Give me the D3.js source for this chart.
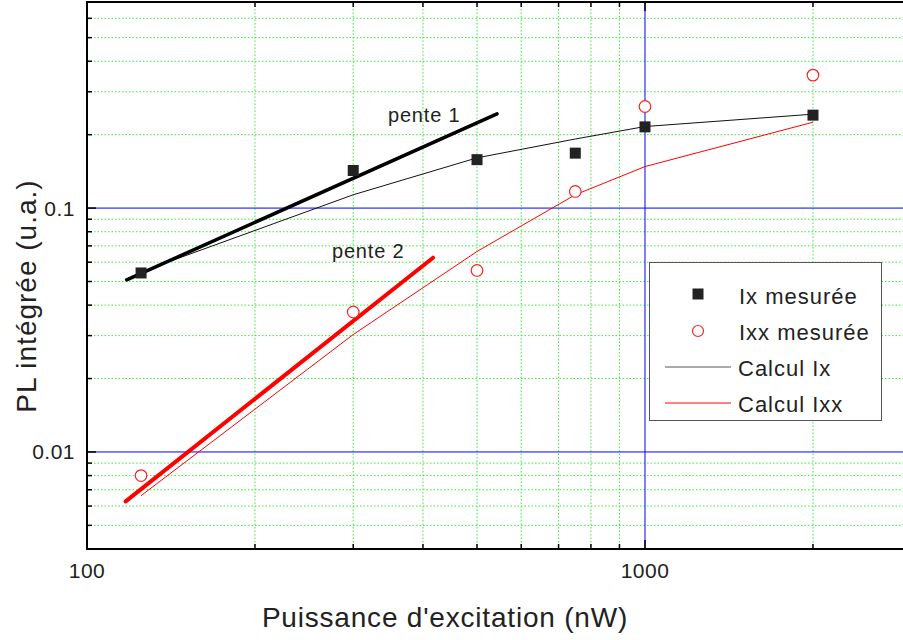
<!DOCTYPE html>
<html><head><meta charset="utf-8">
<script src="https://cdn.jsdelivr.net/npm/d3@7"></script>
<style>body{margin:0;background:#fff}svg{display:block}text{font-family:"Liberation Sans",Arial,sans-serif;fill:#222}</style>
</head><body><svg id="c" width="903" height="640"></svg>
<script>
const powers = [125, 300, 500, 750, 1000, 2000];
const ixMeasured = [0.0542, 0.1426, 0.158, 0.168, 0.2153, 0.2405];
const ixxMeasured = [0.0080, 0.0375, 0.0555, 0.117, 0.261, 0.351];
const ixCalc = [0.0548, 0.1134, 0.1607, 0.192, 0.216, 0.2427];
const ixxCalc = [0.00662, 0.0303, 0.0664, 0.1134, 0.148, 0.225];
const pente1 = [[117.8, 0.0508], [543, 0.2434]];
const pente2 = [[117.3, 0.00627], [417, 0.0626]];
const xMajorTicks = [100, 1000];
const xMinorTicks = [200, 300, 400, 500, 600, 700, 800, 900, 2000];
const yMajorTicks = [0.01, 0.1];
const yMinorTicks = [0.005, 0.006, 0.007, 0.008, 0.009, 0.02, 0.03, 0.04, 0.05, 0.06, 0.07, 0.08, 0.09, 0.2, 0.3, 0.4, 0.5, 0.6];
const yTickLabels = ["0.01", "0.1"];
const xTickLabels = ["100", "1000"];
const legendLabels = ["Ix mesurée", "Ixx mesurée", "Calcul Ix", "Calcul Ixx"];

const L = 87, T = 2, B = 549;
const x = d3.scaleLog().domain([100, 3000]).range([L, L + 558 * Math.log10(30)]);
const y = d3.scaleLog().domain([0.004, 0.7]).range([B, T]);
const R = 903;
const svg = d3.select("#c");
const g = svg.append("g");

// minor grid
g.selectAll(".gx").data(xMinorTicks).join("line")
  .attr("x1", d => x(d)).attr("x2", d => x(d)).attr("y1", T).attr("y2", B)
  .attr("stroke", "#33ee33").attr("stroke-width", 1).attr("stroke-dasharray", "1.5,2");
g.selectAll(".gy").data(yMinorTicks).join("line")
  .attr("x1", L).attr("x2", R).attr("y1", d => y(d)).attr("y2", d => y(d))
  .attr("stroke", "#33ee33").attr("stroke-width", 1).attr("stroke-dasharray", "1.5,2");
// major grid
g.selectAll(".Gx").data(xMajorTicks.slice(1)).join("line")
  .attr("x1", d => x(d)).attr("x2", d => x(d)).attr("y1", T).attr("y2", B)
  .attr("stroke", "#0000ff").attr("stroke-width", 1);
g.selectAll(".Gy").data(yMajorTicks).join("line")
  .attr("x1", L).attr("x2", R).attr("y1", d => y(d)).attr("y2", d => y(d))
  .attr("stroke", "#0000ff").attr("stroke-width", 1);

// axes (ticks inward)
const allX = xMajorTicks.concat(xMinorTicks);
const bottomG = svg.append("g").attr("transform", `translate(0,${B})`);
bottomG.selectAll("line.t").data(allX).join("line").attr("class","t")
  .attr("x1", d => x(d)).attr("x2", d => x(d)).attr("y1", 0)
  .attr("y2", d => xMajorTicks.includes(d) ? -9 : -5).attr("stroke", "#000").attr("stroke-width", 1.5);
const topG = svg.append("g").attr("transform", `translate(0,${T})`);
topG.selectAll("line.t").data(allX).join("line").attr("class","t")
  .attr("x1", d => x(d)).attr("x2", d => x(d)).attr("y1", 0)
  .attr("y2", d => xMajorTicks.includes(d) ? 9 : 5).attr("stroke", "#000").attr("stroke-width", 1.5);
const allY = yMajorTicks.concat(yMinorTicks);
const leftG = svg.append("g").attr("transform", `translate(${L},0)`);
leftG.selectAll("line.t").data(allY).join("line").attr("class","t")
  .attr("y1", d => y(d)).attr("y2", d => y(d)).attr("x1", 0)
  .attr("x2", d => yMajorTicks.includes(d) ? 9 : 5).attr("stroke", "#000").attr("stroke-width", 1.5);

svg.append("line").attr("x1", L).attr("x2", R).attr("y1", B).attr("y2", B).attr("stroke", "#000").attr("stroke-width", 2);
svg.append("line").attr("x1", L).attr("x2", R).attr("y1", T).attr("y2", T).attr("stroke", "#000").attr("stroke-width", 2);
svg.append("line").attr("x1", L).attr("x2", L).attr("y1", T - 1).attr("y2", B + 1).attr("stroke", "#000").attr("stroke-width", 2);

// tick labels
svg.selectAll(".xl").data(xMajorTicks).join("text")
  .attr("x", d => x(d)).attr("y", 578).attr("text-anchor", "middle")
  .attr("font-size", 21).attr("letter-spacing", 0.5).text((d, i) => xTickLabels[i]);
svg.selectAll(".yl").data(yMajorTicks).join("text")
  .attr("x", 75).attr("y", d => y(d) + 7.5).attr("text-anchor", "end")
  .attr("font-size", 21).attr("letter-spacing", 0.5).text((d, i) => yTickLabels[i]);

// axis titles
svg.append("text").attr("x", 445).attr("y", 627).attr("text-anchor", "middle")
  .attr("font-size", 28).attr("letter-spacing", 0.8).text("Puissance d'excitation (nW)");
svg.append("text").attr("transform", "translate(36,296) rotate(-90)").attr("text-anchor", "middle")
  .attr("font-size", 28).attr("letter-spacing", 1).text("PL intégrée (u.a.)");

// calc lines
const line = d3.line().x(d => x(d[0])).y(d => y(d[1]));
svg.append("path").datum(powers.map((p, i) => [p, ixCalc[i]])).attr("d", line)
  .attr("fill", "none").attr("stroke", "#111").attr("stroke-width", 1);
svg.append("path").datum(powers.map((p, i) => [p, ixxCalc[i]])).attr("d", line)
  .attr("fill", "none").attr("stroke", "#ff0000").attr("stroke-width", 1);
// slope lines
svg.append("path").datum(pente1).attr("d", line).attr("fill", "none")
  .attr("stroke", "#000").attr("stroke-width", 3.5).attr("stroke-linecap", "round");
svg.append("path").datum(pente2).attr("d", line).attr("fill", "none")
  .attr("stroke", "#ff0000").attr("stroke-width", 4).attr("stroke-linecap", "round");
svg.append("text").attr("x", 388).attr("y", 122).attr("font-size", 20).attr("letter-spacing", 0.8).text("pente 1");
svg.append("text").attr("x", 332).attr("y", 258).attr("font-size", 20).attr("letter-spacing", 0.8).text("pente 2");

// markers
const S = 11;
svg.selectAll(".sq").data(powers.map((p, i) => [p, ixMeasured[i]])).join("rect")
  .attr("x", d => x(d[0]) - S / 2).attr("y", d => y(d[1]) - S / 2).attr("width", S).attr("height", S)
  .attr("fill", "#222");
svg.selectAll(".ci").data(powers.map((p, i) => [p, ixxMeasured[i]])).join("circle")
  .attr("cx", d => x(d[0])).attr("cy", d => y(d[1])).attr("r", 5.8)
  .attr("fill", "#fff").attr("stroke", "#ff2222").attr("stroke-width", 1.2);

// legend
const lg = svg.append("g");
lg.append("rect").attr("x", 649.5).attr("y", 262.5).attr("width", 232).attr("height", 158)
  .attr("fill", "#fff").attr("stroke", "#555").attr("stroke-width", 1);
lg.append("rect").attr("x", 692.5).attr("y", 288.5).attr("width", 11).attr("height", 11).attr("fill", "#222");
lg.append("circle").attr("cx", 698).attr("cy", 331).attr("r", 5.5).attr("fill", "#fff").attr("stroke", "#ff2222").attr("stroke-width", 1.2);
lg.append("line").attr("x1", 665).attr("x2", 731).attr("y1", 367).attr("y2", 367).attr("stroke", "#555").attr("stroke-width", 1);
lg.append("line").attr("x1", 665).attr("x2", 731).attr("y1", 403).attr("y2", 403).attr("stroke", "#ff0000").attr("stroke-width", 1);
const ly = [304, 340, 376, 412];
legendLabels.forEach((t, i) => {
  lg.append("text").attr("x", i < 2 ? 739 : 738).attr("y", ly[i]).attr("font-size", 22).attr("letter-spacing", 1).text(t);
});
</script></body></html>
